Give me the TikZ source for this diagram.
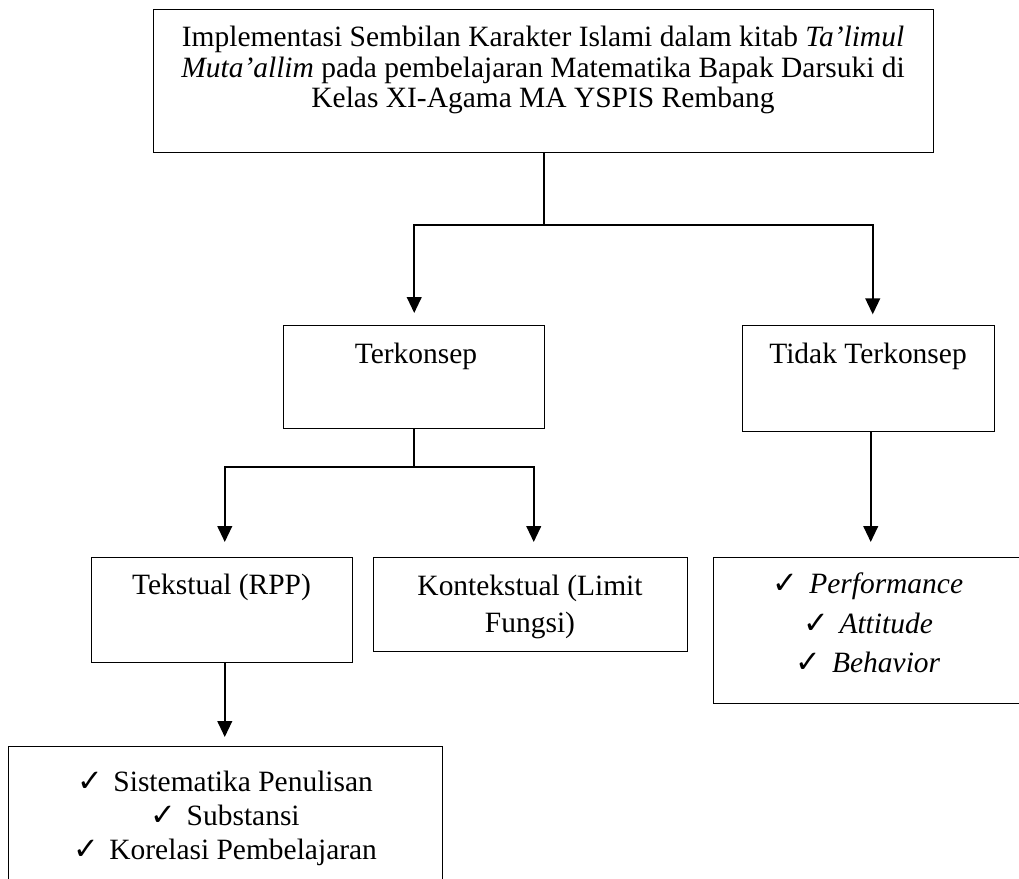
\documentclass[tikz,border=0pt]{standalone}
\usepackage{fontspec}
\setmainfont{Liberation Serif}
\newfontfamily\symfont{DejaVu Sans}
\usetikzlibrary{arrows.meta,calc}
\newcommand\ck{{\symfont\fontsize{23}{23}\selectfont ✓}\hspace{8pt}}
\begin{document}
\begin{tikzpicture}[x=0.75pt,y=-0.75pt,
  box/.style={draw, line width=1.1pt, inner sep=0pt, anchor=north west},
  txt/.style={anchor=base, inner sep=0pt, font=\fontsize{22.1}{26}\selectfont},
  link/.style={line width=1.5pt},
  arr/.style={line width=1.5pt, -{Triangle[width=11pt,length=12pt]}}]
\useasboundingbox (0,0) rectangle (1019,878);
\clip (0,0) rectangle (1019,878);

% boxes
\node[box, minimum width=585pt, minimum height=107.25pt] (top) at (153,9) {};
\node[box, minimum width=195.75pt, minimum height=77.25pt] (terk) at (283,325) {};
\node[box, minimum width=189pt, minimum height=79.5pt] (tidak) at (742,325) {};
\node[box, minimum width=195.75pt, minimum height=78.75pt] (teks) at (91,557) {};
\node[box, minimum width=235.5pt, minimum height=70.5pt] (konteks) at (373,557) {};
\node[box, minimum width=237.75pt, minimum height=109.5pt] (rbox) at (713,557) {};
\node[box, minimum width=325.5pt, minimum height=115.5pt] (bbox) at (8,746) {};

% texts
\node[txt] (t1a) at (543,46) {Implementasi Sembilan Karakter Islami dalam kitab \textit{Ta’limul}};
\node[txt] (t1b) at (543,77) {\textit{Muta’allim} pada pembelajaran Matematika Bapak Darsuki di};
\node[txt] (t1c) at (543,107) {Kelas XI-Agama MA YSPIS Rembang};
\node[txt] (t2) at (416,363) {Terkonsep};
\node[txt] (t3) at (868,363) {Tidak Terkonsep};
\node[txt] (t4) at (221.5,594) {Tekstual (RPP)};
\node[txt] (t5a) at (530,595) {Kontekstual (Limit};
\node[txt] (t5b) at (530,632) {Fungsi)};
\node[txt] (t6a) at (868,593) {\ck\textit{Performance}};
\node[txt] (t6b) at (868,633) {\ck\textit{Attitude}};
\node[txt] (t6c) at (868,672) {\ck\textit{Behavior}};
\node[txt] (t7a) at (225,791) {\ck Sistematika Penulisan};
\node[txt] (t7b) at (225,825) {\ck Substansi};
\node[txt] (t7c) at (225,859) {\ck Korelasi Pembelajaran};

% connectors
\coordinate (j1) at (542,225);
\coordinate (j2) at (415,467);
\draw[link] (top.south) -- (top.south |- j1);
\draw[arr, shorten >=9pt] (top.south |- j1) -| (terk.north);
\draw[arr, shorten >=8pt] (top.south |- j1) -| ([xshift=3pt]tidak.north);
\draw[link] (terk.south) -- (terk.south |- j2);
\draw[arr, shorten >=11.25pt] (terk.south |- j2) -| ([xshift=1.9pt]teks.north);
\draw[arr, shorten >=11.25pt] (terk.south |- j2) -| ([xshift=2.25pt]konteks.north);
\draw[arr, shorten >=11.25pt] ([xshift=1.5pt]tidak.south) -- ([xshift=1.5pt]tidak.south |- rbox.north);
\draw[arr, shorten >=6.75pt] ([xshift=1.9pt]teks.south) -- ([xshift=1.9pt]teks.south |- bbox.north);
\end{tikzpicture}
\end{document}
